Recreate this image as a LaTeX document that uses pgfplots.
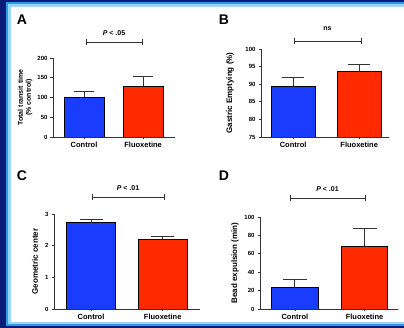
\documentclass[border=0pt]{standalone}
\usepackage{fontspec}
\setmainfont{Liberation Sans}
\usepackage{pgfplots}
\pgfplotsset{compat=1.18}
\definecolor{navy}{HTML}{0A1A78}
\definecolor{cyanA}{HTML}{2A9BE8}
\definecolor{cyanB}{HTML}{9AD4F7}
\definecolor{barblue}{HTML}{1A3CFF}
\definecolor{barred}{HTML}{FF2A00}
\definecolor{axgray}{HTML}{333333}
\newcommand\PX[2]{({#1pt},{328pt-#2pt})}
\newcommand\bracket[5]{%
  \draw[line width=0.8pt,axgray] \PX{#1}{#3} -- \PX{#2}{#3};
  \draw[line width=0.8pt,axgray] \PX{#1}{#3-3} -- \PX{#1}{#3+3};
  \draw[line width=0.8pt,axgray] \PX{#2}{#3-3} -- \PX{#2}{#3+3};
  \node[font=\bfseries\fontsize{7}{8}\selectfont] at \PX{(#1+#2)/2}{#5} {#4};}
\pgfplotsset{
  panel/.style={
    scale only axis, anchor=south west,
    axis lines=left,
    axis line style={-, line width=0.8pt, axgray},
    xtick={0,1}, xticklabels={Control,Fluoxetine},
    tick align=outside, major tick length=2.5pt,
    tick style={line width=0.7pt, axgray},
    x tick label style={font=\bfseries\fontsize{7.5}{8}\selectfont, yshift=0.5pt},
    y tick label style={font=\bfseries\fontsize{6}{6.5}\selectfont, xshift=0.5pt},
    /pgf/number format/assume math mode=true,
    every axis y label/.style={at={(axis description cs:0,0.5)}, rotate=90, anchor=center},
    ylabel style={font=\bfseries\fontsize{8}{9}\selectfont, align=center},
    enlargelimits=false,
    error bars/y dir=plus, error bars/y explicit,
    error bars/error bar style={line width=0.8pt, axgray},
  },
  barc/.style={ybar, bar shift=0pt, draw=black, line width=0.8pt, fill=barblue},
  barf/.style={ybar, bar shift=0pt, draw=black, line width=0.8pt, fill=barred},
}
\begin{document}
\begin{tikzpicture}
\useasboundingbox (0,0) rectangle (404pt,328pt);
\fill[navy] (0,0) rectangle (404pt,328pt);
\fill[cyanA] \PX{6}{2} rectangle \PX{404}{326};
\fill[cyanB] \PX{8}{4} rectangle \PX{404}{324};
\fill[white] \PX{11}{7} rectangle \PX{404}{322};

% Panel A
\begin{axis}[panel, at={(53pt,191pt)}, width=122pt, height=79pt,
  xmin=-0.525, xmax=1.54, ymin=0, ymax=200, ytick={0,50,100,150,200},
  bar width=0.68,
  ylabel={Total transit time\\(\% control)},
  ylabel style={font=\bfseries\fontsize{7}{8}\selectfont, yshift=28pt},
  error bars/error mark options={rotate=90, mark size=10pt, line width=0.8pt, axgray}]
\addplot[barc] coordinates {(0,100) +- (0,16)};
\addplot[barf] coordinates {(1,129) +- (0,24)};
\end{axis}

% Panel B
\begin{axis}[panel, at={(261pt,191pt)}, width=128pt, height=88pt,
  xmin=-0.485, xmax=1.45, ymin=75, ymax=100, ytick={75,80,85,90,95,100},
  bar width=0.667,
  ylabel={Gastric Emptying (\%)},
  ylabel style={yshift=31pt},
  error bars/error mark options={rotate=90, mark size=11pt, line width=0.8pt, axgray}]
\addplot[barc] coordinates {(0,89.5) +- (0,2.5)};
\addplot[barf] coordinates {(1,93.6) +- (0,1.9)};
\end{axis}

% Panel C
\begin{axis}[panel, at={(54pt,19pt)}, width=146pt, height=95pt,
  xmin=-0.517, xmax=1.52, ymin=0, ymax=3, ytick={0,1,2,3},
  bar width=0.685,
  ylabel={Geometric center},
  ylabel style={yshift=19pt},
  error bars/error mark options={rotate=90, mark size=11.5pt, line width=0.8pt, axgray}]
\addplot[barc] coordinates {(0,2.72) +- (0,0.10)};
\addplot[barf] coordinates {(1,2.21) +- (0,0.09)};
\end{axis}

% Panel D
\begin{axis}[panel, at={(260pt,19pt)}, width=138pt, height=92pt,
  xmin=-0.5, xmax=1.48, ymin=0, ymax=100, ytick={0,20,40,60,80,100},
  bar width=0.67,
  ylabel={Bead expulsion (min)},
  ylabel style={yshift=25pt},
  error bars/error mark options={rotate=90, mark size=12pt, line width=0.8pt, axgray}]
\addplot[barc] coordinates {(0,23) +- (0,9.6)};
\addplot[barf] coordinates {(1,68.5) +- (0,19.2)};
\end{axis}

% brackets and panel letters
\bracket{86}{142}{42}{\textit{P} < .05}{33}
\bracket{294}{361}{41}{ns}{29}
\bracket{92}{164}{197}{\textit{P} < .01}{188}
\bracket{290}{365}{198}{\textit{P} < .01}{189}
\node[font=\bfseries\fontsize{14}{14}\selectfont] at \PX{22}{20} {A};
\node[font=\bfseries\fontsize{14}{14}\selectfont] at \PX{224}{20} {B};
\node[font=\bfseries\fontsize{14}{14}\selectfont] at \PX{22}{176} {C};
\node[font=\bfseries\fontsize{14}{14}\selectfont] at \PX{224}{176} {D};
\end{tikzpicture}
\end{document}
